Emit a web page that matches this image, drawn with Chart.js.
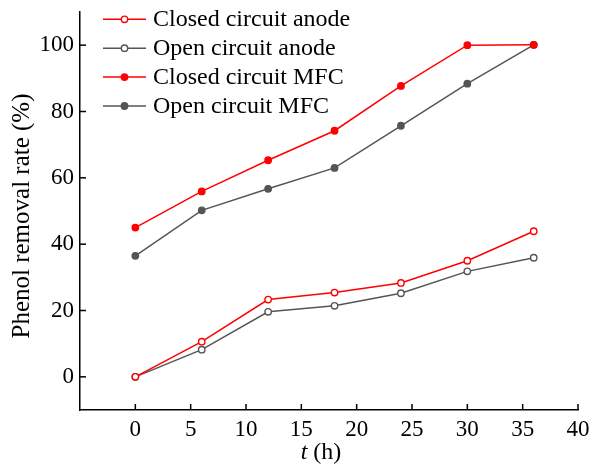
<!DOCTYPE html>
<html><head><meta charset="utf-8">
<script src="https://cdn.jsdelivr.net/npm/chart.js@4.4.0/dist/chart.umd.min.js"></script>
<style>html,body{margin:0;padding:0;background:#fff}#wrap{width:590px;height:467px}</style>
</head><body><div id="wrap"><canvas id="c" width="590" height="467"></canvas></div>
<script>
const times = [0, 6, 12, 18, 24, 30, 36];
const closedAnode = [0, 10.6, 23.3, 25.4, 28.3, 35.0, 43.9];
const openAnode = [0, 8.2, 19.6, 21.4, 25.2, 31.8, 35.9];
const closedMFC = [45.0, 55.9, 65.3, 74.2, 87.7, 100.0, 100.1];
const openMFC = [36.5, 50.2, 56.7, 63.0, 75.7, 88.4, 100.1];
const xTicks = [0, 5, 10, 15, 20, 25, 30, 35, 40];
const yTicks = [0, 20, 40, 60, 80, 100];
const seriesNames = ['Closed circuit anode', 'Open circuit anode', 'Closed circuit MFC', 'Open circuit MFC'];

const RED = '#ff0000', GRAY = '#555555';
const FONT = '"Liberation Serif", "Times New Roman", serif';
const toPts = arr => times.map((t, i) => ({x: t, y: arr[i]}));
function ds(label, arr, color, filled) {
  return {label, data: toPts(arr), borderColor: color, backgroundColor: filled ? color : '#ffffff',
    pointBorderColor: color, pointBackgroundColor: filled ? color : '#ffffff',
    pointRadius: 3.2, pointBorderWidth: 1.4, borderWidth: 1.5, tension: 0};
}

const decor = {
  id: 'decor',
  afterDraw(chart) {
    const ctx = chart.ctx, xs = chart.scales.x, ys = chart.scales.y;
    const area = chart.chartArea;
    ctx.save();
    ctx.strokeStyle = '#000'; ctx.lineWidth = 1.5;
    xTicks.forEach(v => { const px = xs.getPixelForValue(v); ctx.beginPath(); ctx.moveTo(px, area.bottom); ctx.lineTo(px, area.bottom - 6); ctx.stroke(); });
    yTicks.forEach(v => { const py = ys.getPixelForValue(v); ctx.beginPath(); ctx.moveTo(area.left, py); ctx.lineTo(area.left + 6, py); ctx.stroke(); });
    ctx.fillStyle = '#000';
    ctx.textBaseline = 'alphabetic';
    const it = 'italic 24px ' + FONT, nt = '24px ' + FONT;
    ctx.font = it; const w1 = ctx.measureText('t').width;
    ctx.font = nt; const w2 = ctx.measureText(' (h)').width;
    const cx = 321, by = 459;
    let sx = cx - (w1 + w2) / 2;
    ctx.font = it; ctx.textAlign = 'left'; ctx.fillText('t', sx, by);
    ctx.font = nt; ctx.fillText(' (h)', sx + w1, by);
    ctx.save(); ctx.translate(22, 216); ctx.rotate(-Math.PI / 2);
    ctx.textAlign = 'center'; ctx.textBaseline = 'middle'; ctx.font = '25px ' + FONT;
    ctx.fillText('Phenol removal rate (%)', 0, 0); ctx.restore();
    chart.data.datasets.forEach((d, i) => {
      const y = 19.3 + 28.9 * i;
      ctx.strokeStyle = d.borderColor; ctx.lineWidth = 1.5;
      ctx.beginPath(); ctx.moveTo(103, y); ctx.lineTo(146, y); ctx.stroke();
      ctx.beginPath(); ctx.arc(124.5, y, 3.2, 0, Math.PI * 2);
      ctx.fillStyle = d.pointBackgroundColor; ctx.fill();
      ctx.lineWidth = 1.4; ctx.strokeStyle = d.pointBorderColor; ctx.stroke();
      ctx.fillStyle = '#000'; ctx.font = nt; ctx.textAlign = 'left'; ctx.textBaseline = 'alphabetic';
      ctx.fillText(d.label, 153, y + 6.8);
    });
    ctx.restore();
  }
};

new Chart(document.getElementById('c'), {
  type: 'line',
  data: {datasets: [
    ds(seriesNames[0], closedAnode, RED, false),
    ds(seriesNames[1], openAnode, GRAY, false),
    ds(seriesNames[2], closedMFC, RED, true),
    ds(seriesNames[3], openMFC, GRAY, true)
  ]},
  options: {
    responsive: false, animation: false, devicePixelRatio: 1,
    layout: {padding: {top: 12, right: 12, left: 0, bottom: 0}},
    plugins: {legend: {display: false}, tooltip: {enabled: false}},
    scales: {
      x: {type: 'linear', min: -5, max: 40,
        afterBuildTicks: s => { s.ticks = xTicks.map(v => ({value: v})); },
        afterFit: s => { s.height = 57; s.paddingLeft = 0; s.paddingRight = 0; },
        grid: {display: false, drawTicks: false},
        border: {display: true, color: '#000', width: 1.5},
        ticks: {color: '#000', font: {family: FONT, size: 23}, padding: 6, maxRotation: 0}
      },
      y: {type: 'linear', min: -10, max: 110,
        afterBuildTicks: s => { s.ticks = yTicks.map(v => ({value: v})); },
        afterFit: s => { s.width = 80; s.paddingTop = 0; s.paddingBottom = 0; },
        grid: {display: false, drawTicks: false},
        border: {display: true, color: '#000', width: 1.5},
        ticks: {color: '#000', font: {family: FONT, size: 23}, padding: 6}
      }
    }
  },
  plugins: [decor]
});
</script></body></html>
